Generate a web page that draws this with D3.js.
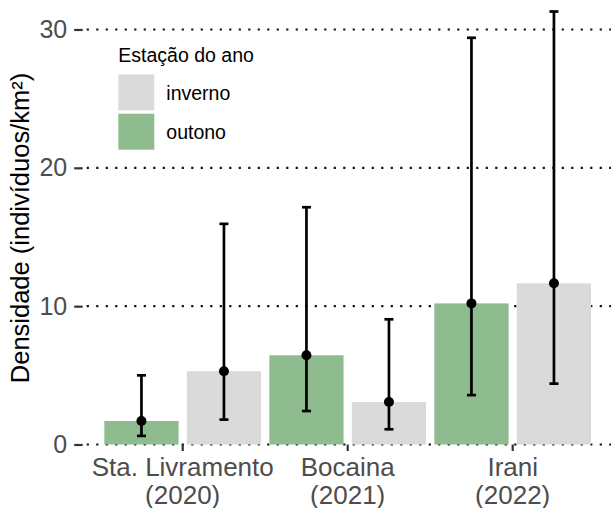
<!DOCTYPE html>
<html>
<head>
<meta charset="utf-8">
<script src="https://cdn.jsdelivr.net/npm/d3@7"></script>
<style>
    body { margin: 0; background: #fff; }
    text { font-family: 'Liberation Sans', Arial, sans-serif; }
</style>
</head>
<body>
<div id="chart-area"></div>
<script>
// Data
const sites = ['Sta. Livramento|(2020)', 'Bocaina|(2021)', 'Irani|(2022)'];
const seasons = ['outono', 'inverno'];
const legendOrder = ['inverno', 'outono'];
const outonoMean = [1.7, 6.45, 10.2];
const outonoLow = [0.62, 2.42, 3.57];
const outonoHigh = [5.0, 17.15, 29.4];
const invernoMean = [5.3, 3.07, 11.65];
const invernoLow = [1.8, 1.1, 4.4];
const invernoHigh = [15.95, 9.05, 31.3];
const yTicks = [0, 10, 20, 30];

const colors = { outono: '#8fbc8f', inverno: '#dadada' };

const data = [];
sites.forEach((s, i) => {
    data.push({ site: s, season: 'outono', mean: outonoMean[i], low: outonoLow[i], high: outonoHigh[i] });
    data.push({ site: s, season: 'inverno', mean: invernoMean[i], low: invernoLow[i], high: invernoHigh[i] });
});

// Panel
const panel = { left: 83.7, right: 611.7, top: 11.5, bottom: 444.5 };

const svg = d3.select('#chart-area')
    .append('svg')
    .attr('width', 611)
    .attr('height', 508);

// Scales
const x = d3.scaleBand()
    .domain(sites)
    .range([panel.left, panel.right])
    .paddingInner(0)
    .paddingOuter(0.1);

const xSub = d3.scaleBand()
    .domain(seasons)
    .range([0, x.bandwidth()])
    .paddingInner(0.1)
    .paddingOuter(0.05);

const y = d3.scaleLinear()
    .domain([0, 31.3])
    .range([panel.bottom, panel.top]);

// Grid lines (dotted)
svg.append('g')
    .selectAll('line')
    .data(yTicks)
    .enter()
    .append('line')
    .attr('x1', panel.left + 3)
    .attr('x2', 611)
    .attr('y1', (d) => y(d))
    .attr('y2', (d) => y(d))
    .attr('stroke', '#111')
    .attr('stroke-width', 2.2)
    .attr('stroke-dasharray', '2.2,7.3');

// Bars
svg.append('g')
    .selectAll('rect')
    .data(data)
    .enter()
    .append('rect')
    .attr('x', (d) => x(d.site) + xSub(d.season))
    .attr('y', (d) => y(d.mean))
    .attr('width', xSub.bandwidth())
    .attr('height', (d) => y(0) - y(d.mean))
    .attr('fill', (d) => colors[d.season]);

// Error bars
const eb = svg.append('g')
    .selectAll('g')
    .data(data)
    .enter()
    .append('g')
    .attr('transform', (d) => 'translate(' + (x(d.site) + xSub(d.season) + xSub.bandwidth() / 2) + ',0)');

eb.append('line')
    .attr('y1', (d) => y(d.low))
    .attr('y2', (d) => y(d.high))
    .attr('stroke', '#000')
    .attr('stroke-width', 2.7);

eb.append('line')
    .attr('x1', -4.5).attr('x2', 4.5)
    .attr('y1', (d) => y(d.low))
    .attr('y2', (d) => y(d.low))
    .attr('stroke', '#000')
    .attr('stroke-width', 2.7);

eb.append('line')
    .attr('x1', -4.5).attr('x2', 4.5)
    .attr('y1', (d) => y(d.high))
    .attr('y2', (d) => y(d.high))
    .attr('stroke', '#000')
    .attr('stroke-width', 2.7);

eb.append('circle')
    .attr('cy', (d) => y(d.mean))
    .attr('r', 5)
    .attr('fill', '#000');

// Y Axis
const yAxisCall = d3.axisLeft(y)
    .tickValues(yTicks)
    .tickSize(8.5)
    .tickPadding(7);
const yAxis = svg.append('g')
    .attr('transform', 'translate(' + (panel.left - 1) + ',0)')
    .call(yAxisCall);
yAxis.select('.domain').remove();
yAxis.selectAll('line').attr('stroke', '#333').attr('stroke-width', 2.2);
yAxis.selectAll('text')
    .attr('fill', '#4d4d4d')
    .attr('font-size', '25px');

// X Axis
const xAxisCall = d3.axisBottom(x)
    .tickSize(6.5)
    .tickFormat('');
const xAxis = svg.append('g')
    .attr('transform', 'translate(0,' + panel.bottom + ')')
    .call(xAxisCall);
xAxis.select('.domain').remove();
xAxis.selectAll('line').attr('stroke', '#333').attr('stroke-width', 2.2);

xAxis.selectAll('.tick')
    .append('text')
    .attr('fill', '#4d4d4d')
    .attr('font-size', '26px')
    .attr('text-anchor', 'middle')
    .selectAll('tspan')
    .data((d) => d.split('|'))
    .enter()
    .append('tspan')
    .attr('x', 0)
    .attr('y', (d, i) => 31 + i * 28)
    .text((d) => d);

// Y Label
svg.append('text')
    .attr('transform', 'translate(29,' + ((panel.top + panel.bottom) / 2) + ') rotate(-90)')
    .attr('text-anchor', 'middle')
    .attr('font-size', '25.5px')
    .attr('fill', '#000')
    .text('Densidade (indivíduos/km²)');

// Legend
const legend = svg.append('g')
    .attr('transform', 'translate(118.3,0)');

legend.append('text')
    .attr('x', 0)
    .attr('y', 61.5)
    .attr('font-size', '19.5px')
    .attr('fill', '#000')
    .text('Estação do ano');

const items = legend.selectAll('.item')
    .data(legendOrder)
    .enter()
    .append('g')
    .attr('class', 'item')
    .attr('transform', (d, i) => 'translate(0,' + (74.3 + i * 39.4) + ')');

items.append('rect')
    .attr('width', 36)
    .attr('height', 36)
    .attr('fill', (d) => colors[d]);

items.append('text')
    .attr('x', 48)
    .attr('y', 25.5)
    .attr('font-size', '19.5px')
    .attr('fill', '#000')
    .text((d) => d);
</script>
</body>
</html>
